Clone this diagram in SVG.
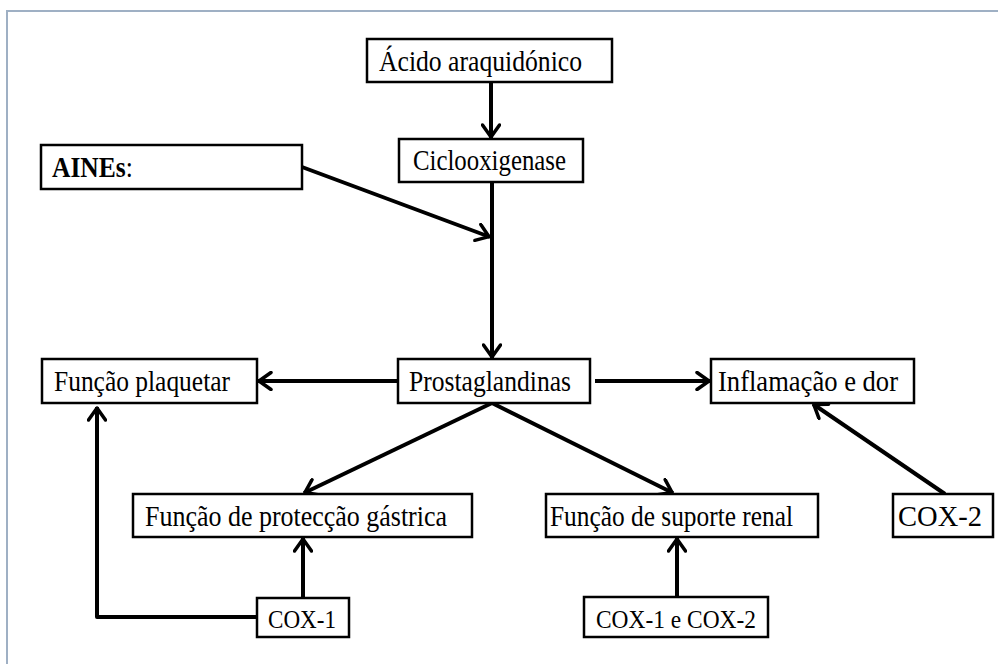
<svg xmlns="http://www.w3.org/2000/svg" width="998" height="664" viewBox="0 0 998 664">
<style>
.box{fill:#fff;stroke:#000;stroke-width:2.5}
.t{font-family:"Liberation Serif","Times New Roman",serif;font-size:29px;fill:#000}
.s{font-size:26px}
.c{fill:none;stroke:#000;stroke-width:4}
</style>
<defs>
<marker id="arr" viewBox="0 0 18 20" refX="16" refY="10" markerWidth="18" markerHeight="20" orient="auto" markerUnits="userSpaceOnUse">
<path d="M3,1.5 L15,10 L3,18.5" fill="none" stroke="#000" stroke-width="3.5" stroke-linejoin="round" stroke-linecap="round"/>
</marker>
</defs>
<rect x="0" y="0" width="998" height="664" fill="#fff"/>
<path d="M7,664 V11 H998" fill="none" stroke="#9fb0c4" stroke-width="2"/>
<g id="connectors">
<line class="c" x1="491" y1="82" x2="491" y2="138" marker-end="url(#arr)"/>
<line class="c" x1="302" y1="167" x2="490" y2="237" marker-end="url(#arr)"/>
<line class="c" x1="492" y1="182" x2="492" y2="358" marker-end="url(#arr)"/>
<line class="c" x1="398" y1="381" x2="258" y2="381" marker-end="url(#arr)"/>
<line class="c" x1="595" y1="381" x2="710" y2="381" marker-end="url(#arr)"/>
<line class="c" x1="492" y1="403" x2="304" y2="493" marker-end="url(#arr)"/>
<line class="c" x1="492" y1="403" x2="673" y2="493" marker-end="url(#arr)"/>
<line class="c" x1="945" y1="494" x2="813" y2="404" marker-end="url(#arr)"/>
<line class="c" x1="303" y1="598" x2="303" y2="538" marker-end="url(#arr)"/>
<polyline class="c" points="257,617 97,617 97,407" stroke-linejoin="round" marker-end="url(#arr)"/>
<line class="c" x1="677" y1="597" x2="677" y2="538" marker-end="url(#arr)"/>
</g>
<g id="acido"><rect class="box" x="367" y="39" width="245" height="43"/><text class="t" x="379" y="71" textLength="203" lengthAdjust="spacingAndGlyphs">Ácido araquidónico</text></g>
<g id="ciclo"><rect class="box" x="399" y="139" width="184" height="43"/><text class="t" x="413" y="170" textLength="153" lengthAdjust="spacingAndGlyphs">Ciclooxigenase</text></g>
<g id="aines"><rect class="box" x="41" y="145" width="261" height="44"/><text class="t" transform="translate(52,177) scale(0.88,1)"><tspan font-weight="bold">AINEs</tspan>:</text></g>
<g id="prosta"><rect class="box" x="398" y="359" width="192" height="44"/><text class="t" x="409" y="391" textLength="162" lengthAdjust="spacingAndGlyphs">Prostaglandinas</text></g>
<g id="plaquetar"><rect class="box" x="42" y="359" width="215" height="44"/><text class="t" x="54" y="391" textLength="176" lengthAdjust="spacingAndGlyphs">Função plaquetar</text></g>
<g id="inflamacao"><rect class="box" x="711" y="359" width="203" height="44"/><text class="t" x="718" y="391" textLength="180" lengthAdjust="spacingAndGlyphs">Inflamação e dor</text></g>
<g id="gastrica"><rect class="box" x="133" y="494" width="339" height="43"/><text class="t" x="145" y="526" textLength="302" lengthAdjust="spacingAndGlyphs">Função de protecção gástrica</text></g>
<g id="renal"><rect class="box" x="546" y="494" width="272" height="43"/><text class="t" x="550" y="526" textLength="243" lengthAdjust="spacingAndGlyphs">Função de suporte renal</text></g>
<g id="cox2"><rect class="box" x="893" y="494" width="100" height="43"/><text class="t" x="898" y="526" textLength="84" lengthAdjust="spacingAndGlyphs">COX-2</text></g>
<g id="cox1"><rect class="box" x="257" y="598" width="92" height="39"/><text class="t s" x="268" y="628" textLength="68" lengthAdjust="spacingAndGlyphs">COX-1</text></g>
<g id="cox12"><rect class="box" x="584" y="597" width="184" height="40"/><text class="t s" x="596" y="628" textLength="160" lengthAdjust="spacingAndGlyphs">COX-1 e COX-2</text></g>
</svg>
